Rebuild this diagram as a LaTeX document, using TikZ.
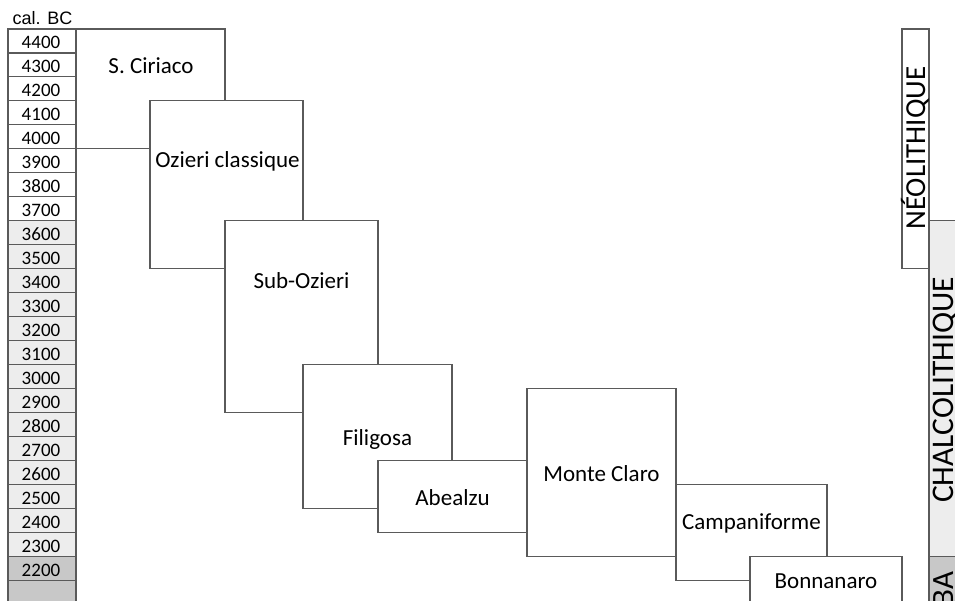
\documentclass[tikz,border=0pt]{standalone}
\usepackage{fontspec}
\setmainfont{Carlito}
\newfontfamily\arialf{Liberation Sans}
\definecolor{ln}{HTML}{5A5A5A}
\definecolor{lg}{HTML}{EDEDED}
\definecolor{dg}{HTML}{C8C8C8}
\begin{document}
\begin{tikzpicture}[x=1pt,y=-1pt,
  box/.style={draw=ln, line width=1.1pt, fill=white},
  cell/.style={draw=ln, line width=1.1pt},
  lab/.style={font=\fontsize{23}{23}\selectfont, anchor=base, inner sep=0pt},
  yr/.style={font=\fontsize{19}{19}\selectfont, anchor=base, inner sep=0pt},
  era/.style={rotate=90, anchor=base, inner sep=0pt}]
\useasboundingbox[fill=white] (0,0) rectangle (955,601);
% scale column
\foreach \v [count=\i from 0] in {4400,4300,...,2200}{
  \pgfmathsetmacro{\yt}{29+\i*23.96}
  \ifnum\v>3650 \def\fc{white}\else\ifnum\v>2250 \def\fc{lg}\else\def\fc{dg}\fi\fi
  \draw[cell, fill=\fc] (8,\yt) rectangle (76,\yt+23.96);
  \node[yr] (y\v) at (41,\yt+19.9) {\v};
}
\draw[cell, fill=dg] (8,580.08) rectangle (76,612);
\node[anchor=base west, inner sep=0pt, font=\arialf\fontsize{18}{18}\selectfont] (cal) at (12.5,25) {cal. BC};
% right era band
\draw[cell, fill=lg] (929,220.68) rectangle (965,556.12);
\draw[cell, fill=dg] (929,556.12) rectangle (965,615);
\draw[box] (902,29) rectangle (929,268.6);
\node[era, font=\fontsize{29}{29}\selectfont] (neo) at (925,148) {NÉOLITHIQUE};
\node[era, font=\fontsize{31.5}{31.5}\selectfont] (chalco) at (953,390) {CHALCOLITHIQUE};
\node[era, font=\fontsize{31}{31}\selectfont] (ba) at (953,589) {BA};
% cultures
\draw[box] (76,29) rectangle (225,148.8);
\node[lab] (sciriaco) at (151,74) {S. Ciriaco};
\draw[box] (150,100.88) rectangle (303,268.6);
\node[lab] (ozieri) at (227.5,168) {Ozieri classique};
\draw[box] (225,220.68) rectangle (378,412.36);
\node[lab] (subozieri) at (301.5,289) {Sub-Ozieri};
\draw[box] (303,364.44) rectangle (452,508.2);
\node[lab] (filigosa) at (377.5,445) {Filigosa};
\draw[box] (378,460.28) rectangle (527,532.16);
\node[lab] (abealzu) at (452.5,505) {Abealzu};
\draw[box] (527,388.4) rectangle (676,556.12);
\node[lab] (monteclaro) at (601.5,481) {Monte Claro};
\draw[box] (676,484.24) rectangle (827,580.08);
\node[lab] (campan) at (751.5,529.3) {Campaniforme};
\draw[box] (750,556.12) rectangle (902,620);
\node[lab] (bonnan) at (826,588.3) {Bonnanaro};
\end{tikzpicture}
\end{document}
